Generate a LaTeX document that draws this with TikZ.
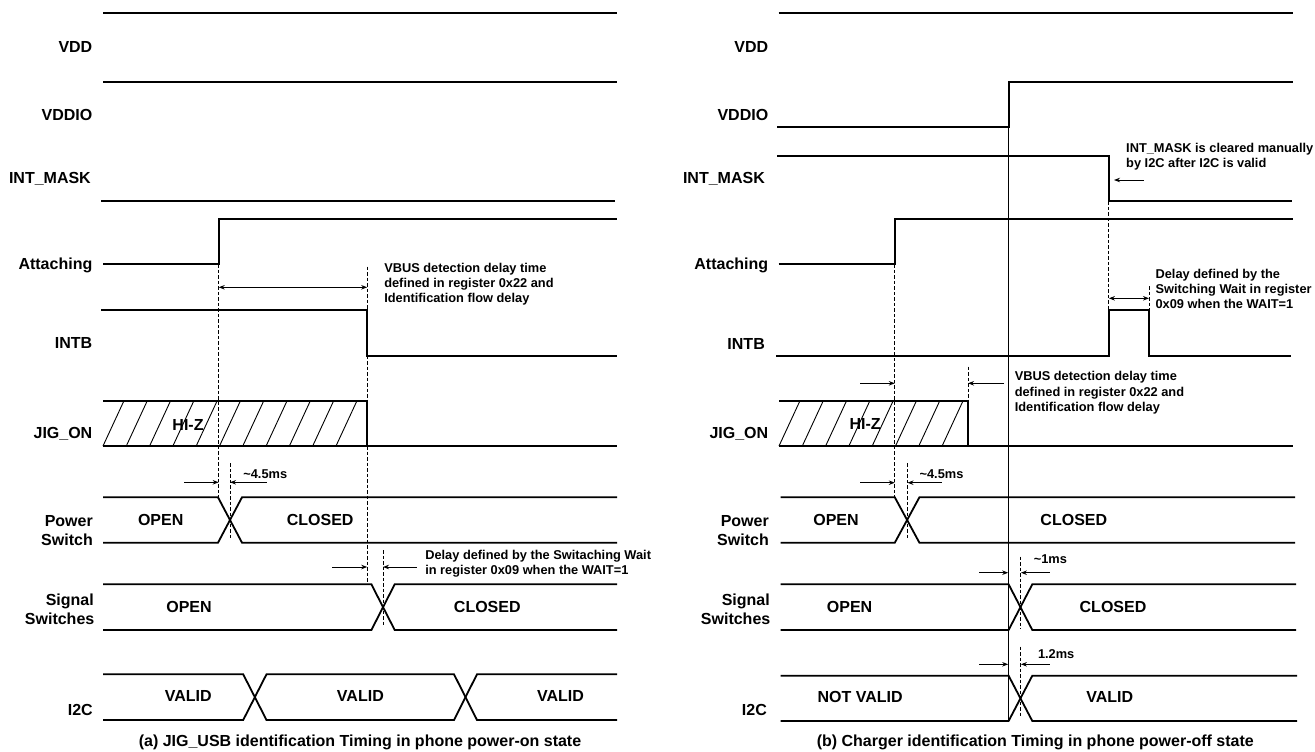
\documentclass[tikz,border=0pt]{standalone}
\usepackage{fontspec}
\setmainfont{Liberation Sans}
\usetikzlibrary{arrows.meta}
\begin{document}
\begin{tikzpicture}[x=1pt,y=-1pt,
 sig/.style={line width=1.8pt, line cap=butt, line join=miter},
 thinl/.style={line width=0.9pt},
 dsh/.style={line width=0.9pt, dash pattern=on 3.5pt off 2pt},
 arr/.style={line width=0.9pt, -{Stealth[length=6pt,width=4.5pt]}},
 darr/.style={line width=0.9pt, {Stealth[length=6pt,width=4.5pt]}-{Stealth[length=6pt,width=4.5pt]}},
 lab/.style={font=\fontsize{16}{19}\selectfont\bfseries, inner sep=0pt, anchor=base east},
 st/.style={font=\fontsize{16}{19}\selectfont\bfseries, inner sep=0pt, anchor=base},
 ann/.style={font=\fontsize{12.8}{15}\selectfont\bfseries, inner sep=0pt, anchor=base west},
 captxt/.style={font=\fontsize{16}{19}\selectfont\bfseries, inner sep=0pt, anchor=base}]
\useasboundingbox (0,0) rectangle (1315,752);

%================ LEFT PANEL =================
\node[lab] (lvdd) at (92.5,52.4) {VDD};
\node[lab] (lvddio) at (92.5,120.7) {VDDIO};
\node[lab] (lmask) at (91,183.4) {INT\_MASK};
\node[lab] (latt) at (92.5,269) {Attaching};
\node[lab] (lintb) at (92.5,348.4) {INTB};
\node[lab] (ljig) at (92.5,438.7) {JIG\_ON};
\node[lab] (lpw1) at (93,526.4) {Power};
\node[lab] (lpw2) at (93,545) {Switch};
\node[lab] (lsg1) at (94,605.7) {Signal};
\node[lab] (lsg2) at (94.5,624.7) {Switches};
\node[lab] (li2c) at (93,715.7) {I2C};

% signals
\draw[sig] (103,12.7) -- (617,12.7);
\draw[sig] (103,81.7) -- (617,81.7);
\draw[sig] (101,201.3) -- (615,201.3);
\draw[sig] (103,264.3) -- (218.7,264.3) -- (218.7,218.7) -- (617,218.7);
\draw[sig] (101,310) -- (367.2,310) -- (367.2,355.7) -- (617,355.7);
% JIG_ON
\foreach \k in {0,...,10} \draw[thinl] (103+23.3*\k,446) -- ++(21,-45.3);
\draw[sig] (103,400.7) -- (367.2,400.7) -- (367.2,446);
\draw[sig] (103,446) -- (617,446);
% Power switch
\draw[sig] (103,497.3) -- (218,497.3) -- (242,542.7) -- (617,542.7);
\draw[sig] (103,542.7) -- (218,542.7) -- (242,497.3) -- (617,497.3);
% Signal switches
\draw[sig] (103,584.3) -- (371.4,584.3) -- (394.7,630) -- (617,630);
\draw[sig] (103,630) -- (371.4,630) -- (394.7,584.3) -- (617,584.3);
% I2C
\draw[sig] (103,674.3) -- (243.2,674.3) -- (266.5,720) -- (454,720) -- (477,674.3) -- (617,674.3);
\draw[sig] (103,720) -- (243.2,720) -- (266.5,674.3) -- (454,674.3) -- (477,720) -- (617,720);

% dashed
\draw[dsh] (218.7,264.3) -- (218.7,497.3);
\draw[dsh] (367.2,266.7) -- (367.2,310);
\draw[dsh] (367.2,355.7) -- (367.2,400.7);
\draw[dsh] (367.2,446) -- (367.2,584.3);
\draw[dsh] (230,463.3) -- (230,540);
\draw[dsh] (383,550) -- (383,626);

% arrows
\draw[darr] (218.7,287.3) -- (367.2,287.3);
\draw[arr] (184,482.3) -- (218.7,482.3);
\draw[arr] (266.5,482.3) -- (230,482.3);
\draw[arr] (332,567) -- (367.2,567);
\draw[arr] (416.7,567) -- (383,567);

% texts
\node[st] (lhiz) at (188,430.7) {HI-Z};
\node[st] (lpo) at (160.7,525.7) {OPEN};
\node[st] (lpc) at (320.2,525.7) {CLOSED};
\node[st] (lso) at (189,612.4) {OPEN};
\node[st] (lsc) at (487.3,612.4) {CLOSED};
\node[st] (lv1) at (188.2,701.7) {VALID};
\node[st] (lv2) at (360.4,701.7) {VALID};
\node[st] (lv3) at (560.5,701.7) {VALID};
\node[ann] (lt45) at (243.2,478.7) {\textasciitilde4.5ms};
\node[ann] (lvb1) at (384.1,272.4) {VBUS detection delay time};
\node[ann] (lvb2) at (384.1,287.4) {defined in register 0x22 and};
\node[ann] (lvb3) at (384.1,302.2) {Identification flow delay};
\node[ann] (ldl1) at (425.1,559) {Delay defined by the Switaching Wait};
\node[ann] (ldl2) at (425.1,574) {in register 0x09 when the WAIT=1};
\node[captxt] (lcap) at (360,746.5) {(a) JIG\_USB identification Timing in phone power-on state};

%================ RIGHT PANEL =================
\node[lab] (rvdd) at (768.4,52.4) {VDD};
\node[lab] (rvddio) at (768.4,120.7) {VDDIO};
\node[lab] (rmask) at (765,183.4) {INT\_MASK};
\node[lab] (ratt) at (768.4,269) {Attaching};
\node[lab] (rintb) at (765,349) {INTB};
\node[lab] (rjig) at (768.4,438.7) {JIG\_ON};
\node[lab] (rpw1) at (769,526.4) {Power};
\node[lab] (rpw2) at (769,545) {Switch};
\node[lab] (rsg1) at (770,605.7) {Signal};
\node[lab] (rsg2) at (770.5,624.7) {Switches};
\node[lab] (ri2c) at (767,715.7) {I2C};

% signals
\draw[sig] (778.5,12.7) -- (1293,12.7);
\draw[sig] (777,126.7) -- (1008.6,126.7) -- (1008.6,81.7) -- (1293,81.7);
\draw[thinl] (1008.6,126.7) -- (1008.6,721);
\draw[sig] (777,155.7) -- (1108.9,155.7) -- (1108.9,201.3) -- (1292,201.3);
\draw[sig] (778.5,264.3) -- (894.8,264.3) -- (894.8,218.7) -- (1293,218.7);
\draw[sig] (776,355.7) -- (1108.9,355.7) -- (1108.9,310) -- (1149,310) -- (1149,355.7) -- (1291,355.7);
% JIG_ON
\foreach \k in {0,...,7} \draw[thinl] (779+23.3*\k,446) -- ++(21,-45.3);
\draw[sig] (779,400.7) -- (968,400.7) -- (968,446);
\draw[sig] (779,446) -- (1293,446);
% Power switch
\draw[sig] (780.6,497.3) -- (894.8,497.3) -- (919.4,542.7) -- (1295,542.7);
\draw[sig] (780.6,542.7) -- (894.8,542.7) -- (919.4,497.3) -- (1295,497.3);
% Signal switches
\draw[sig] (780.6,584.3) -- (1008.6,584.3) -- (1032.3,630) -- (1296,630);
\draw[sig] (780.6,630) -- (1008.6,630) -- (1032.3,584.3) -- (1296,584.3);
% I2C
\draw[sig] (780.6,675.7) -- (1008.6,675.7) -- (1032.3,721) -- (1297,721);
\draw[sig] (780.6,721) -- (1008.6,721) -- (1032.3,675.7) -- (1297,675.7);

% dashed
\draw[dsh] (1108.9,201.3) -- (1108.9,310);
\draw[dsh] (1149,286) -- (1149,310);
\draw[dsh] (894.8,264.3) -- (894.8,497.3);
\draw[dsh] (968,366.7) -- (968,400.7);
\draw[dsh] (907.5,463.3) -- (907.5,540);
\draw[dsh] (1020.5,556.7) -- (1020.5,628.3);
\draw[dsh] (1020.5,646.7) -- (1020.5,716.7);

% arrows
\draw[arr] (1143.6,180) -- (1114,180);
\draw[darr] (1108.9,298.3) -- (1149,298.3);
\draw[arr] (860.2,383.3) -- (894.8,383.3);
\draw[arr] (1004,383.3) -- (968,383.3);
\draw[arr] (860.2,482.7) -- (894.8,482.7);
\draw[arr] (941.8,482.7) -- (907.5,482.7);
\draw[arr] (979.4,572.7) -- (1008.2,572.7);
\draw[arr] (1049.7,572.7) -- (1020.9,572.7);
\draw[arr] (979.4,664.3) -- (1008.2,664.3);
\draw[arr] (1049.7,664.3) -- (1020.9,664.3);

% texts
\node[st] (rhiz) at (865.2,429) {HI-Z};
\node[st] (rpo) at (836,525.7) {OPEN};
\node[st] (rpc) at (1073.8,525.7) {CLOSED};
\node[st] (rso) at (849.6,612.4) {OPEN};
\node[st] (rsc) at (1113,612.4) {CLOSED};
\node[st] (rnv) at (860.2,702.4) {NOT VALID};
\node[st] (rv) at (1109.7,702.4) {VALID};
\node[ann] (rt45) at (919.4,478.7) {\textasciitilde4.5ms};
\node[ann] (rt1) at (1033.6,563.7) {\textasciitilde1ms};
\node[ann] (rt12) at (1037.8,658.7) {1.2ms};
\node[ann] (rm1) at (1126,152.4) {INT\_MASK is cleared manually};
\node[ann] (rm2) at (1126,167.4) {by I2C after I2C is valid};
\node[ann] (rd1) at (1155.4,278) {Delay defined by the};
\node[ann] (rd2) at (1155.4,293) {Switching Wait in register};
\node[ann] (rd3) at (1155.4,308) {0x09 when the WAIT=1};
\node[ann] (rvb1) at (1014.6,380.7) {VBUS detection delay time};
\node[ann] (rvb2) at (1014.6,396.4) {defined in register 0x22 and};
\node[ann] (rvb3) at (1014.6,411.4) {Identification flow delay};
\node[captxt] (rcap) at (1035.3,746.5) {(b) Charger identification Timing in phone power-off state};
\end{tikzpicture}
\end{document}
